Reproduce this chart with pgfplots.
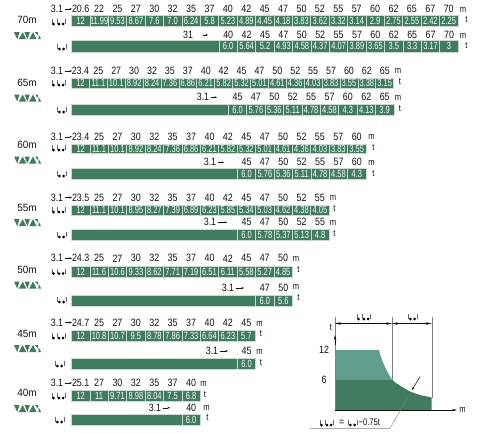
\documentclass[border=0pt]{standalone}
\usepackage{fontspec}
\setmainfont{Liberation Sans}
\usepackage{graphicx}
\usepackage{pgfplots}
\pgfplotsset{compat=1.18}
\usetikzlibrary{arrows.meta}
\definecolor{dk}{HTML}{417C5E}
\definecolor{lt}{HTML}{5F9E8C}
\definecolor{tx}{HTML}{111111}
\newcommand\cl[1]{\scalebox{0.72}[1]{\fontsize{10.4}{11}\selectfont\textcolor{white}{#1}}}
\newcommand\hd[1]{\scalebox{0.84}[1]{\fontsize{10.6}{11}\selectfont\textcolor{tx}{#1}}}
\newcommand\un[1]{\scalebox{0.8}[1]{\fontsize{9.5}{10}\selectfont\textcolor{tx}{#1}}}
\pgfplotsset{cellst/.style={forget plot,fill=dk,draw=white!72!dk,line width=0.7pt,mark=none}}
% xstart step ytop ybot yhead {head/value,...}
\newcommand\barrow[6]{%
 \gdef\acc{}%
 \foreach \h/\v [count=\i from 0] in {#6}{%
  \pgfmathsetmacro\xa{#1+\i*#2}\pgfmathsetmacro\xb{\xa+#2}\pgfmathsetmacro\xm{\xa+#2/2}\pgfmathsetmacro\ym{(#3+#4)/2}%
  \xdef\acc{\unexpanded\expandafter{\acc}\noexpand\addplot[cellst] coordinates {(\xa,#3)(\xb,#3)(\xb,#4)(\xa,#4)(\xa,#3)};%
   \noexpand\node[inner sep=0pt] at (axis cs:\xm,\ym) {\noexpand\cl{\v}};%
   \noexpand\node[inner sep=0pt] at (axis cs:\xm,#5) {\noexpand\hd{\h}};}%
 }\acc}
\newcommand\merged[4]{\addplot[cellst] coordinates {(#1,#3)(#2,#3)(#2,#4)(#1,#4)(#1,#3)};}
\newcommand\startlab[3]{% x of 3.1 centre, x arrow end, y
 \node[inner sep=0pt] at (axis cs:#1,#3) {\hd{3.1}};
 \draw[tx,line width=0.4pt,-{Stealth[length=2.5pt,width=2pt]}] (axis cs:#1+7.5,#3) -- (axis cs:#2,#3);}
\newcommand\mt[4]{% mx my tx ty
 \node[inner sep=0pt] at (axis cs:#1,#2) {\un{m}};
 \node[inner sep=0pt] at (axis cs:#3,#4) {\un{t}};}
\newcommand\hookC[2]{% x left, y bottom : three hooks
 \draw[gray!80!black,line width=0.3pt] (axis cs:#1,#2-6)--(axis cs:#1,#2-1) (axis cs:#1+4.7,#2-6)--(axis cs:#1+4.7,#2-1) (axis cs:#1+13.3,#2-6)--(axis cs:#1+13.3,#2-1);
 \fill[black] (axis cs:#1+1.5,#2-1) circle (1.5pt) (axis cs:#1+7,#2-1) circle (1.5pt) (axis cs:#1+11.2,#2-1) circle (1.5pt);}
\newcommand\hookB[2]{%
 \draw[gray!80!black,line width=0.3pt] (axis cs:#1,#2-6)--(axis cs:#1,#2-1) (axis cs:#1+8.7,#2-6)--(axis cs:#1+8.7,#2-1);
 \fill[black] (axis cs:#1+2.3,#2-1) circle (1.5pt) (axis cs:#1+6.6,#2-1) circle (1.5pt);}
\newcommand\tri[2]{% x left, y centre
 \fill[dk] (axis cs:#1,#2-3.5)--(axis cs:#1+5.5,#2-3.5)--(axis cs:#1+3.2,#2+3.5)--cycle;
 \fill[dk] (axis cs:#1+8.7,#2-3.5)--(axis cs:#1+12.2,#2+3.5)--(axis cs:#1+4.8,#2+3.5)--cycle;
 \fill[dk] (axis cs:#1+10.5,#2-3.5)--(axis cs:#1+15.8,#2-3.5)--(axis cs:#1+13.5,#2+3.5)--cycle;
 \fill[dk] (axis cs:#1+19,#2-3.5)--(axis cs:#1+22.6,#2+3.5)--(axis cs:#1+15.2,#2+3.5)--cycle;
 \fill[dk] (axis cs:#1+20.8,#2-3.5)--(axis cs:#1+24,#2-3.5)--(axis cs:#1+24.2,#2+0)--cycle;
 \fill[dk] (axis cs:#1+24.4,#2+3.5)--(axis cs:#1+27,#2+3.5)--(axis cs:#1+24.8,#2-1)--cycle;}
\newcommand\len[2]{\node[inner sep=0pt] at (axis cs:27,#2) {\fontsize{10.5}{11}\selectfont\textcolor{tx}{\scalebox{0.95}[1]{#1}}};}
\begin{document}
\begin{tikzpicture}
\path[use as bounding box] (0,0) rectangle (482pt,432pt);
\begin{axis}[at={(0,0)},anchor=south west,width=482pt,height=432pt,scale only axis,hide axis,
 xmin=0,xmax=482,ymin=0,ymax=432,y dir=reverse,clip=false]
% 70 m
\len{70m}{20}\tri{14}{35.7}\hookC{52}{25}\hookB{57}{50}
\startlab{57}{72}{9}
\barrow{71.5}{18.4}{15}{26.7}{9}{20.6/12,22/11.99,25/9.53,27/8.67,30/7.6,32/7.0,35/6.24,37/5.8,40/5.23,42/4.89,45/4.45,47/4.18,50/3.83,52/3.62,55/3.32,57/3.14,60/2.9,62/2.75,65/2.55,67/2.42,70/2.25}
\mt{463}{9.5}{466.5}{19}
\node[inner sep=0pt] at (axis cs:188,35) {\hd{31}};
\draw[tx,line width=0.4pt,-{Stealth[length=2.5pt,width=2pt]}] (axis cs:203,35) -- (axis cs:208,35);
\merged{71.5}{219}{40.7}{52}
\barrow{219}{18.4}{40.7}{52}{35}{40/6.0,42/5.64,45/5.2,47/4.93,50/4.58,52/4.37,55/4.07,57/3.89,60/3.65,62/3.5,65/3.3,67/3.17,70/3}
\mt{463}{35.5}{466.5}{45.5}
% 65 m
\len{65m}{83}\tri{14}{98}\hookC{52}{86}\hookB{57}{113}
\startlab{57}{72}{71}
\barrow{71.5}{17.9}{78}{88.5}{71}{23.4/12,25/11.1,27/10.1,30/8.92,32/8.24,35/7.36,37/6.86,40/6.21,42/5.82,45/5.32,47/5.01,50/4.61,52/4.36,55/4.03,57/3.83,60/3.55,62/3.38,65/3.15}
\mt{398}{71}{400}{81}
\startlab{203}{217}{97.3}
\merged{71.5}{228.3}{104}{115}
\barrow{228.3}{18.4}{104}{115}{97.3}{45/6.0,47/5.76,50/5.36,52/5.11,55/4.78,57/4.58,60/4.3,62/4.13,65/3.9}
\mt{398}{98}{400}{108}
% 60 m
\len{60m}{144.5}\tri{14}{160}\hookC{52}{151}\hookB{57}{177}
\startlab{57}{72}{136.7}
\barrow{71.5}{18.4}{144}{153.5}{136.7}{23.4/12,25/11.1,27/10.1,30/8.92,32/8.24,35/7.36,37/6.86,40/6.21,42/5.82,45/5.32,47/5.01,50/4.61,52/4.36,55/4.03,57/3.83,60/3.55}
\mt{371.5}{136.7}{373.5}{147}
\startlab{210}{224}{162.3}
\merged{71.5}{237.3}{168.5}{179}
\barrow{237.3}{18.4}{168.5}{179}{162.3}{45/6.0,47/5.76,50/5.36,52/5.11,55/4.78,57/4.58,60/4.3}
\mt{371.5}{163}{373.5}{173}
% 55 m
\len{55m}{208}\tri{14}{222.7}\hookC{52}{213}\hookB{57}{238}
\startlab{57}{72}{197.5}
\barrow{71.5}{18.4}{205}{215}{197.5}{23.5/12,25/11.1,27/10.1,30/8.95,32/8.27,35/7.39,37/6.89,40/6.23,42/5.85,45/5.34,47/5.03,50/4.62,52/4.38,55/4.05}
\mt{333}{197.5}{334.5}{208}
\startlab{210}{227}{222.3}
\merged{71.5}{237.3}{229.3}{240}
\barrow{237.3}{18.4}{229.3}{240}{222.3}{45/6.0,47/5.78,50/5.37,52/5.13,55/4.8}
\mt{333}{222.5}{334.5}{233}
% 50 m
\len{50m}{270}\tri{14}{285}\hookC{52}{274.5}\hookB{57}{303}
\startlab{57}{72}{258.3}
\barrow{71.5}{18.4}{266}{277.3}{258.3}{24.3/12,25/11.6,27/10.6,30/9.33,32/8.62,35/7.71,37/7.19,40/6.51,42/6.11,45/5.58,47/5.27,50/4.85}
\mt{296}{259}{298.5}{269}
\startlab{228}{244}{288}
\merged{71.5}{255.7}{295}{306.7}
\barrow{255.7}{18.4}{295}{306.7}{288}{47/6.0,50/5.6}
\mt{296}{287}{298.5}{297}
% 45 m
\len{45m}{334}\tri{14}{348.5}\hookC{52}{339}\hookB{55}{367}
\startlab{57}{72}{322.5}
\barrow{71.5}{18.4}{330}{341}{322.5}{24.7/12,25/10.8,27/10.7,30/9.5,32/8.78,35/7.86,37/7.33,40/6.64,42/6.23,45/5.7}
\mt{259.5}{323.5}{261}{333.5}
\startlab{212}{228}{351}
\merged{71.5}{237.3}{358}{369}
\barrow{237.3}{18.4}{358}{369}{351}{45/6.0}
\mt{259.5}{352}{261}{362}
% 40 m
\len{40m}{393}\tri{14}{408.5}\hookC{52}{399}\hookB{55}{423}
\startlab{57}{72}{383}
\barrow{71.5}{18.4}{390}{401}{383}{25.1/12,27/11,30/9.71,32/8.98,35/8.04,37/7.5,40/6.8}
\mt{203.5}{384}{205}{394}
\startlab{155}{170}{407.7}
\merged{71.5}{182}{414}{425}
\barrow{182}{18.4}{414}{425}{407.7}{40/6.0}
\mt{206.5}{408}{207.5}{417}
% small diagram
\addplot[forget plot,fill=lt,draw=none] coordinates {(335,350)(379,350)(380,354)(382,360)(385,367)(388,373)(392,379.5)(393,380)(335,380)(335,350)};
\addplot[forget plot,fill=dk,draw=none] coordinates {(335,380)(392,380)(396,383)(402,387)(410,391.5)(420,395)(431.7,397.5)(431.7,410)(335,410)(335,380)};
\addplot[forget plot,smooth,dashed,black!70,line width=0.3pt] coordinates {(392,380)(400,387)(407,392)(420,398)(430,400)};
\draw[gray,line width=0.4pt] (axis cs:335,317)--(axis cs:335,410) (axis cs:392,317)--(axis cs:392,380) (axis cs:431.7,317)--(axis cs:431.7,397.5);
\draw[tx,line width=0.4pt,-{Stealth[length=5pt,width=2.5pt]}] (axis cs:335,410)--(axis cs:457,410);
\draw[tx,line width=0.4pt,-{Stealth[length=5pt,width=2.5pt]}] (axis cs:335,345)--(axis cs:335,335);
\draw[tx,line width=0.4pt,{Stealth[length=6pt,width=2.5pt]}-{Stealth[length=6pt,width=2.5pt]}] (axis cs:335,323.5)--(axis cs:392,323.5);
\draw[tx,line width=0.4pt,{Stealth[length=6pt,width=2.5pt]}-{Stealth[length=6pt,width=2.5pt]}] (axis cs:392,323.5)--(axis cs:431.7,323.5);
\hookC{357}{320}\hookB{408}{320}
\draw[gray,line width=0.4pt] (axis cs:310,428.3)--(axis cs:390,428.3)--(axis cs:408,397);
\draw[black,line width=0.5pt,-{Stealth[length=3pt,width=2pt]}] (axis cs:420,376.5)--(axis cs:412,390);
\node[inner sep=0pt] at (axis cs:462.5,410) {\un{m}};
\node[inner sep=0pt] at (axis cs:331,327.5) {\un{t}};
\node[inner sep=0pt] at (axis cs:324,350) {\hd{12}};
\node[inner sep=0pt] at (axis cs:324,380) {\hd{6}};
\hookC{320}{426}\hookB{348}{426}
\node[inner sep=0pt] at (axis cs:341.7,422.5) {\hd{=}};
\node[inner sep=0pt,anchor=west] at (axis cs:358.5,422.5) {\scalebox{0.8}[1]{\fontsize{9.5}{10}\selectfont\textcolor{tx}{−0.75t}}};
\end{axis}
\end{tikzpicture}
\end{document}
